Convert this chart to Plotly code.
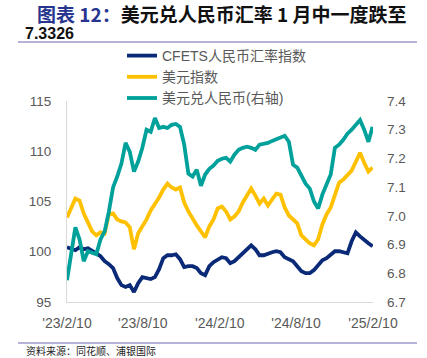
import plotly.graph_objects as go
import pandas as pd

# x positions: sample dates (every 10 days from 2023-02-10)
dates = pd.date_range("2023-02-10", periods=74, freq="10D")

cfets = [100.45, 100.25, 100.15, 100.45, 100.25, 100.35, 100.15, 99.85, 99.55, 99.06,
         98.76, 98.37, 97.38, 96.68, 96.49, 96.68, 95.99, 96.88, 97.48, 97.38,
         97.28, 97.48, 98.27, 99.36, 99.65, 99.65, 99.75, 99.26, 98.47, 98.56,
         98.56, 98.37, 97.87, 97.67, 98.56, 98.96, 99.26, 99.46, 99.36, 98.86,
         99.06, 99.46, 99.85, 100.15, 100.64, 100.25, 99.65, 99.65, 99.85, 99.95,
         100.05, 99.95, 99.46, 99.26, 99.06, 98.56, 98.07, 97.87, 97.87, 98.17,
         98.66, 99.16, 99.36, 99.65, 100.05, 100.05, 99.95, 99.85, 101.04, 101.93,
         101.53, 101.24, 100.84, 100.54]

dxy = [103.42, 104.31, 105.30, 105.10, 103.81, 102.92, 102.03, 101.63, 101.93, 101.83,
       103.71, 103.81, 103.22, 103.02, 102.92, 102.43, 100.25, 101.83, 102.52, 103.22,
       104.11, 104.70, 105.40, 106.19, 106.78, 106.39, 106.19, 106.39, 104.90, 104.01,
       103.22, 102.62, 102.03, 101.44, 102.52, 103.22, 104.31, 104.50, 104.01, 103.22,
       103.51, 104.01, 104.90, 105.69, 106.29, 105.59, 104.80, 105.30, 104.60, 105.20,
       105.79, 105.69, 104.41, 103.61, 103.22, 102.82, 101.63, 101.24, 100.84, 100.64,
       101.24, 102.72, 103.71, 104.41, 105.59, 106.88, 107.18, 107.67, 108.07, 108.96,
       109.85, 108.86, 107.97, 108.37]

usdcny = [6.776, 6.877, 6.960, 6.918, 6.842, 6.877, 6.873, 6.866, 6.918, 6.946,
          7.015, 7.099, 7.137, 7.182, 7.254, 7.223, 7.154, 7.189, 7.237, 7.300,
          7.293, 7.341, 7.306, 7.310, 7.306, 7.317, 7.320, 7.310, 7.248, 7.147,
          7.137, 7.161, 7.105, 7.144, 7.164, 7.175, 7.192, 7.199, 7.202, 7.189,
          7.213, 7.230, 7.237, 7.241, 7.237, 7.230, 7.248, 7.251, 7.254, 7.261,
          7.268, 7.275, 7.279, 7.258, 7.178, 7.168, 7.140, 7.112, 7.095, 7.050,
          7.026, 7.074, 7.109, 7.144, 7.237, 7.248, 7.265, 7.286, 7.300, 7.317,
          7.334, 7.300, 7.258, 7.310]

series_names = ["CFETS人民币汇率指数", "美元指数", "美元兑人民币(右轴)"]
x_tick_vals = ["2023-02-10", "2023-08-10", "2024-02-10", "2024-08-10", "2025-02-10"]
x_tick_text = ["'23/2/10", "'23/8/10", "'24/2/10", "'24/8/10", "'25/2/10"]
left_ticks = [95, 100, 105, 110, 115]
right_ticks = [6.7, 6.8, 6.9, 7.0, 7.1, 7.2, 7.3, 7.4]

title_prefix = "图表 12："
title_line1 = "美元兑人民币汇率 1 月中一度跌至"
title_line2 = "7.3326"
source_text = "资料来源：同花顺、浦银国际"

FONT = "Liberation Sans, Arial, Noto Sans CJK SC, sans-serif"
CJK = "Noto Sans CJK SC, sans-serif"
GRAY = "#595959"

fig = go.Figure()
fig.add_trace(go.Scatter(x=dates, y=cfets, name=series_names[0], mode="lines",
                         line=dict(color="#0A2A78", width=3.8)))
fig.add_trace(go.Scatter(x=dates, y=dxy, name=series_names[1], mode="lines",
                         line=dict(color="#FFC000", width=3.8)))
fig.add_trace(go.Scatter(x=dates, y=usdcny, name=series_names[2], mode="lines",
                         line=dict(color="#00A19A", width=3.8), yaxis="y2"))

fig.update_layout(
    width=427, height=358,
    margin=dict(l=67, r=54, t=101, b=56),
    paper_bgcolor="white", plot_bgcolor="white",
    font=dict(family=FONT, size=13, color=GRAY),
    showlegend=True,
    legend=dict(x=(122 - 67) / 306, y=(302 - 40) / 201, xanchor="left", yanchor="top",
                bgcolor="rgba(0,0,0,0)", font=dict(size=14, color=GRAY, family=FONT),
                tracegroupgap=0, itemclick=False),
    xaxis=dict(type="date", range=["2023-02-10", "2025-02-10"],
               tickvals=x_tick_vals, ticktext=x_tick_text,
               showgrid=False, zeroline=False, showline=True, linecolor="#D9D9D9",
               linewidth=1, ticks="", ticklabelstandoff=8,
               tickfont=dict(size=14, color=GRAY)),
    yaxis=dict(range=[95, 115], tickvals=left_ticks, showgrid=False, zeroline=False,
               showline=True, linecolor="#D9D9D9", linewidth=1, ticks="",
               ticklabelstandoff=12, tickfont=dict(size=13.5, color=GRAY)),
    yaxis2=dict(range=[6.7, 7.4], tickvals=right_ticks, tickformat=".1f",
                overlaying="y", side="right", showgrid=False, zeroline=False,
                showline=False, ticks="", ticklabelstandoff=13,
                tickfont=dict(size=13.5, color=GRAY)),
)

def py(Y):
    return (302 - Y) / 201

def px(X):
    return (X - 67) / 306

fig.add_annotation(xref="paper", yref="paper", x=px(409), y=py(13), xanchor="right",
                   yanchor="middle", showarrow=False,
                   text="<b><span style='color:#27358F'>" + title_prefix + "</span>" + title_line1 + "</b>",
                   font=dict(family=CJK, size=19, color="#111111"))
fig.add_annotation(xref="paper", yref="paper", x=px(76), y=py(33), xanchor="right",
                   yanchor="middle", showarrow=False,
                   text="<b>" + title_line2 + "</b>",
                   font=dict(family=FONT, size=16, color="#111111"))
fig.add_annotation(xref="paper", yref="paper", x=px(24), y=py(350), xanchor="left",
                   yanchor="middle", showarrow=False, text=source_text,
                   font=dict(family=CJK, size=10, color="#222222"))

for Y in (42, 343):
    fig.add_shape(type="line", xref="paper", yref="paper", x0=px(18), x1=px(417),
                  y0=py(Y), y1=py(Y), line=dict(color="#9C9ACB", width=1.5))

fig.write_html("out.html", config={"displayModeBar": False},
               post_script="document.body.style.margin='0';")
